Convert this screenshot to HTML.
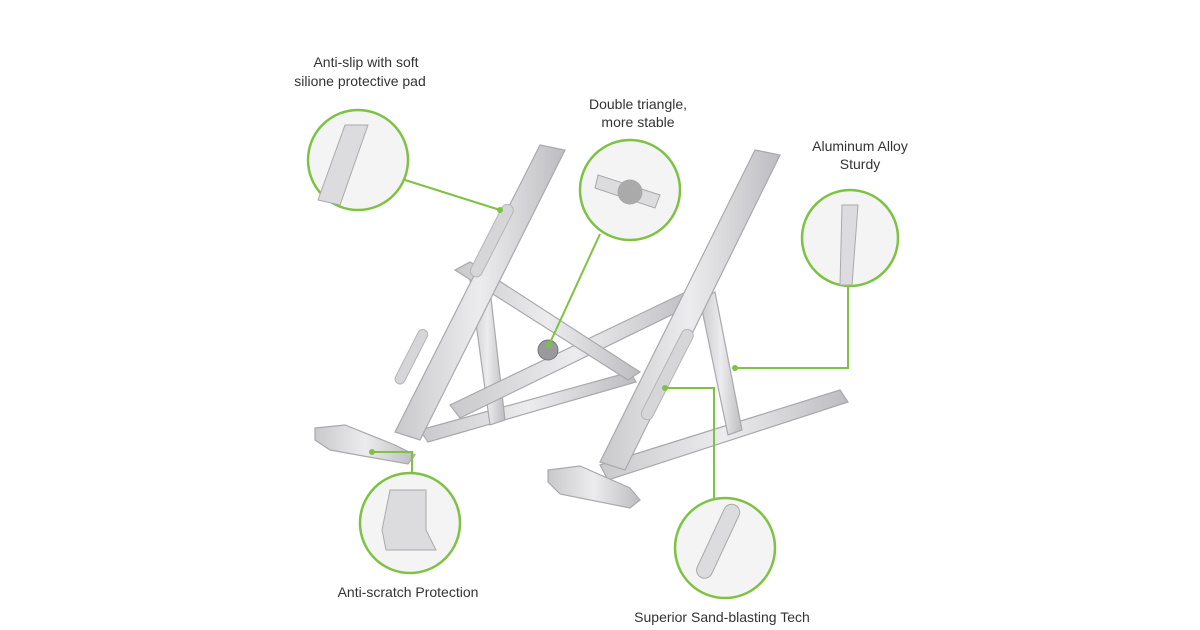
<!DOCTYPE html>
<html><head><meta charset="utf-8"><style>
html,body{margin:0;padding:0;background:#fff;}
svg{display:block}
text{font-family:"Liberation Sans",sans-serif;font-size:14px;fill:#333;text-anchor:middle}
</style></head><body>
<svg width="1200" height="630" viewBox="0 0 1200 630">
<defs>
<linearGradient id="al" x1="0" y1="0" x2="1" y2="0">
<stop offset="0" stop-color="#c9c9cc"/><stop offset="0.5" stop-color="#ececee"/><stop offset="1" stop-color="#bdbdc1"/>
</linearGradient>
</defs>
<!-- stand -->
<g stroke="#a9a9ad" stroke-width="1.2" fill="url(#al)">
<!-- back base -->
<polygon points="420,430 630,372 636,382 428,442"/>
<polygon points="600,465 840,390 848,402 608,480"/>
<!-- cross braces -->
<polygon points="470,280 488,272 505,420 490,425"/>
<polygon points="450,405 690,290 698,302 460,418"/>
<polygon points="455,270 470,262 640,372 628,380"/>
<polygon points="700,300 715,292 742,430 728,435"/>
<!-- left arm -->
<polygon points="540,145 565,150 420,440 395,432"/>
<!-- right arm -->
<polygon points="755,150 780,155 625,470 600,462"/>
<!-- feet -->
<polygon points="315,428 345,425 395,445 415,455 408,464 330,450 315,440"/>
<polygon points="548,470 580,466 630,488 640,500 630,508 560,494 548,482"/>
</g>
<g fill="#d6d6d9" stroke="#b5b5b9">
<rect x="-6" y="0" width="12" height="80" rx="6" transform="translate(510,205) rotate(27)"/>
<rect x="-6" y="0" width="12" height="100" rx="6" transform="translate(690,330) rotate(27)"/>
<rect x="-5" y="0" width="10" height="60" rx="5" transform="translate(425,330) rotate(27)"/>
</g>
<circle cx="548" cy="350" r="10" fill="#9a9a9e" stroke="#777"/>
<!-- green connectors -->
<g stroke="#7dc242" stroke-width="2" fill="none">
<line x1="405" y1="180" x2="500" y2="210"/>
<line x1="600" y1="234" x2="549" y2="345"/>
<polyline points="848,286 848,368 735,368"/>
<polyline points="412,473 412,452 372,452"/>
<polyline points="714,498 714,388 665,388"/>
</g>
<g fill="#7dc242">
<circle cx="500" cy="210" r="3"/><circle cx="549" cy="345" r="3"/><circle cx="735" cy="368" r="3"/><circle cx="372" cy="452" r="3"/><circle cx="665" cy="388" r="3"/>
</g>
<!-- zoom circles -->
<g stroke="#7dc242" stroke-width="2.5" fill="#f4f4f5">
<circle cx="358" cy="160" r="50"/>
<circle cx="630" cy="190" r="50"/>
<circle cx="850" cy="238" r="48"/>
<circle cx="410" cy="523" r="50"/>
<circle cx="725" cy="548" r="50"/>
</g>
<g fill="#dcdcdf" stroke="#aaa">
<polygon points="345,125 368,125 340,205 318,200"/>
<polygon points="598,175 660,195 655,208 595,188"/>
<circle cx="630" cy="192" r="12" fill="#aaa"/>
<polygon points="842,205 858,205 852,285 840,285"/>
<path d="M390,490 h36 v40 l10,20 h-50 l-4,-20z"/>
<rect x="-8" y="0" width="16" height="80" rx="8" transform="translate(735,505) rotate(25)"/>
</g>
<!-- labels -->
<text x="366" y="67">Anti-slip with soft</text>
<text x="360" y="86">silione protective pad</text>
<text x="638" y="109">Double triangle,</text>
<text x="638" y="127">more stable</text>
<text x="860" y="151">Aluminum Alloy</text>
<text x="860" y="169">Sturdy</text>
<text x="408" y="597">Anti-scratch Protection</text>
<text x="722" y="622">Superior Sand-blasting Tech</text>
</svg>
</body></html>
